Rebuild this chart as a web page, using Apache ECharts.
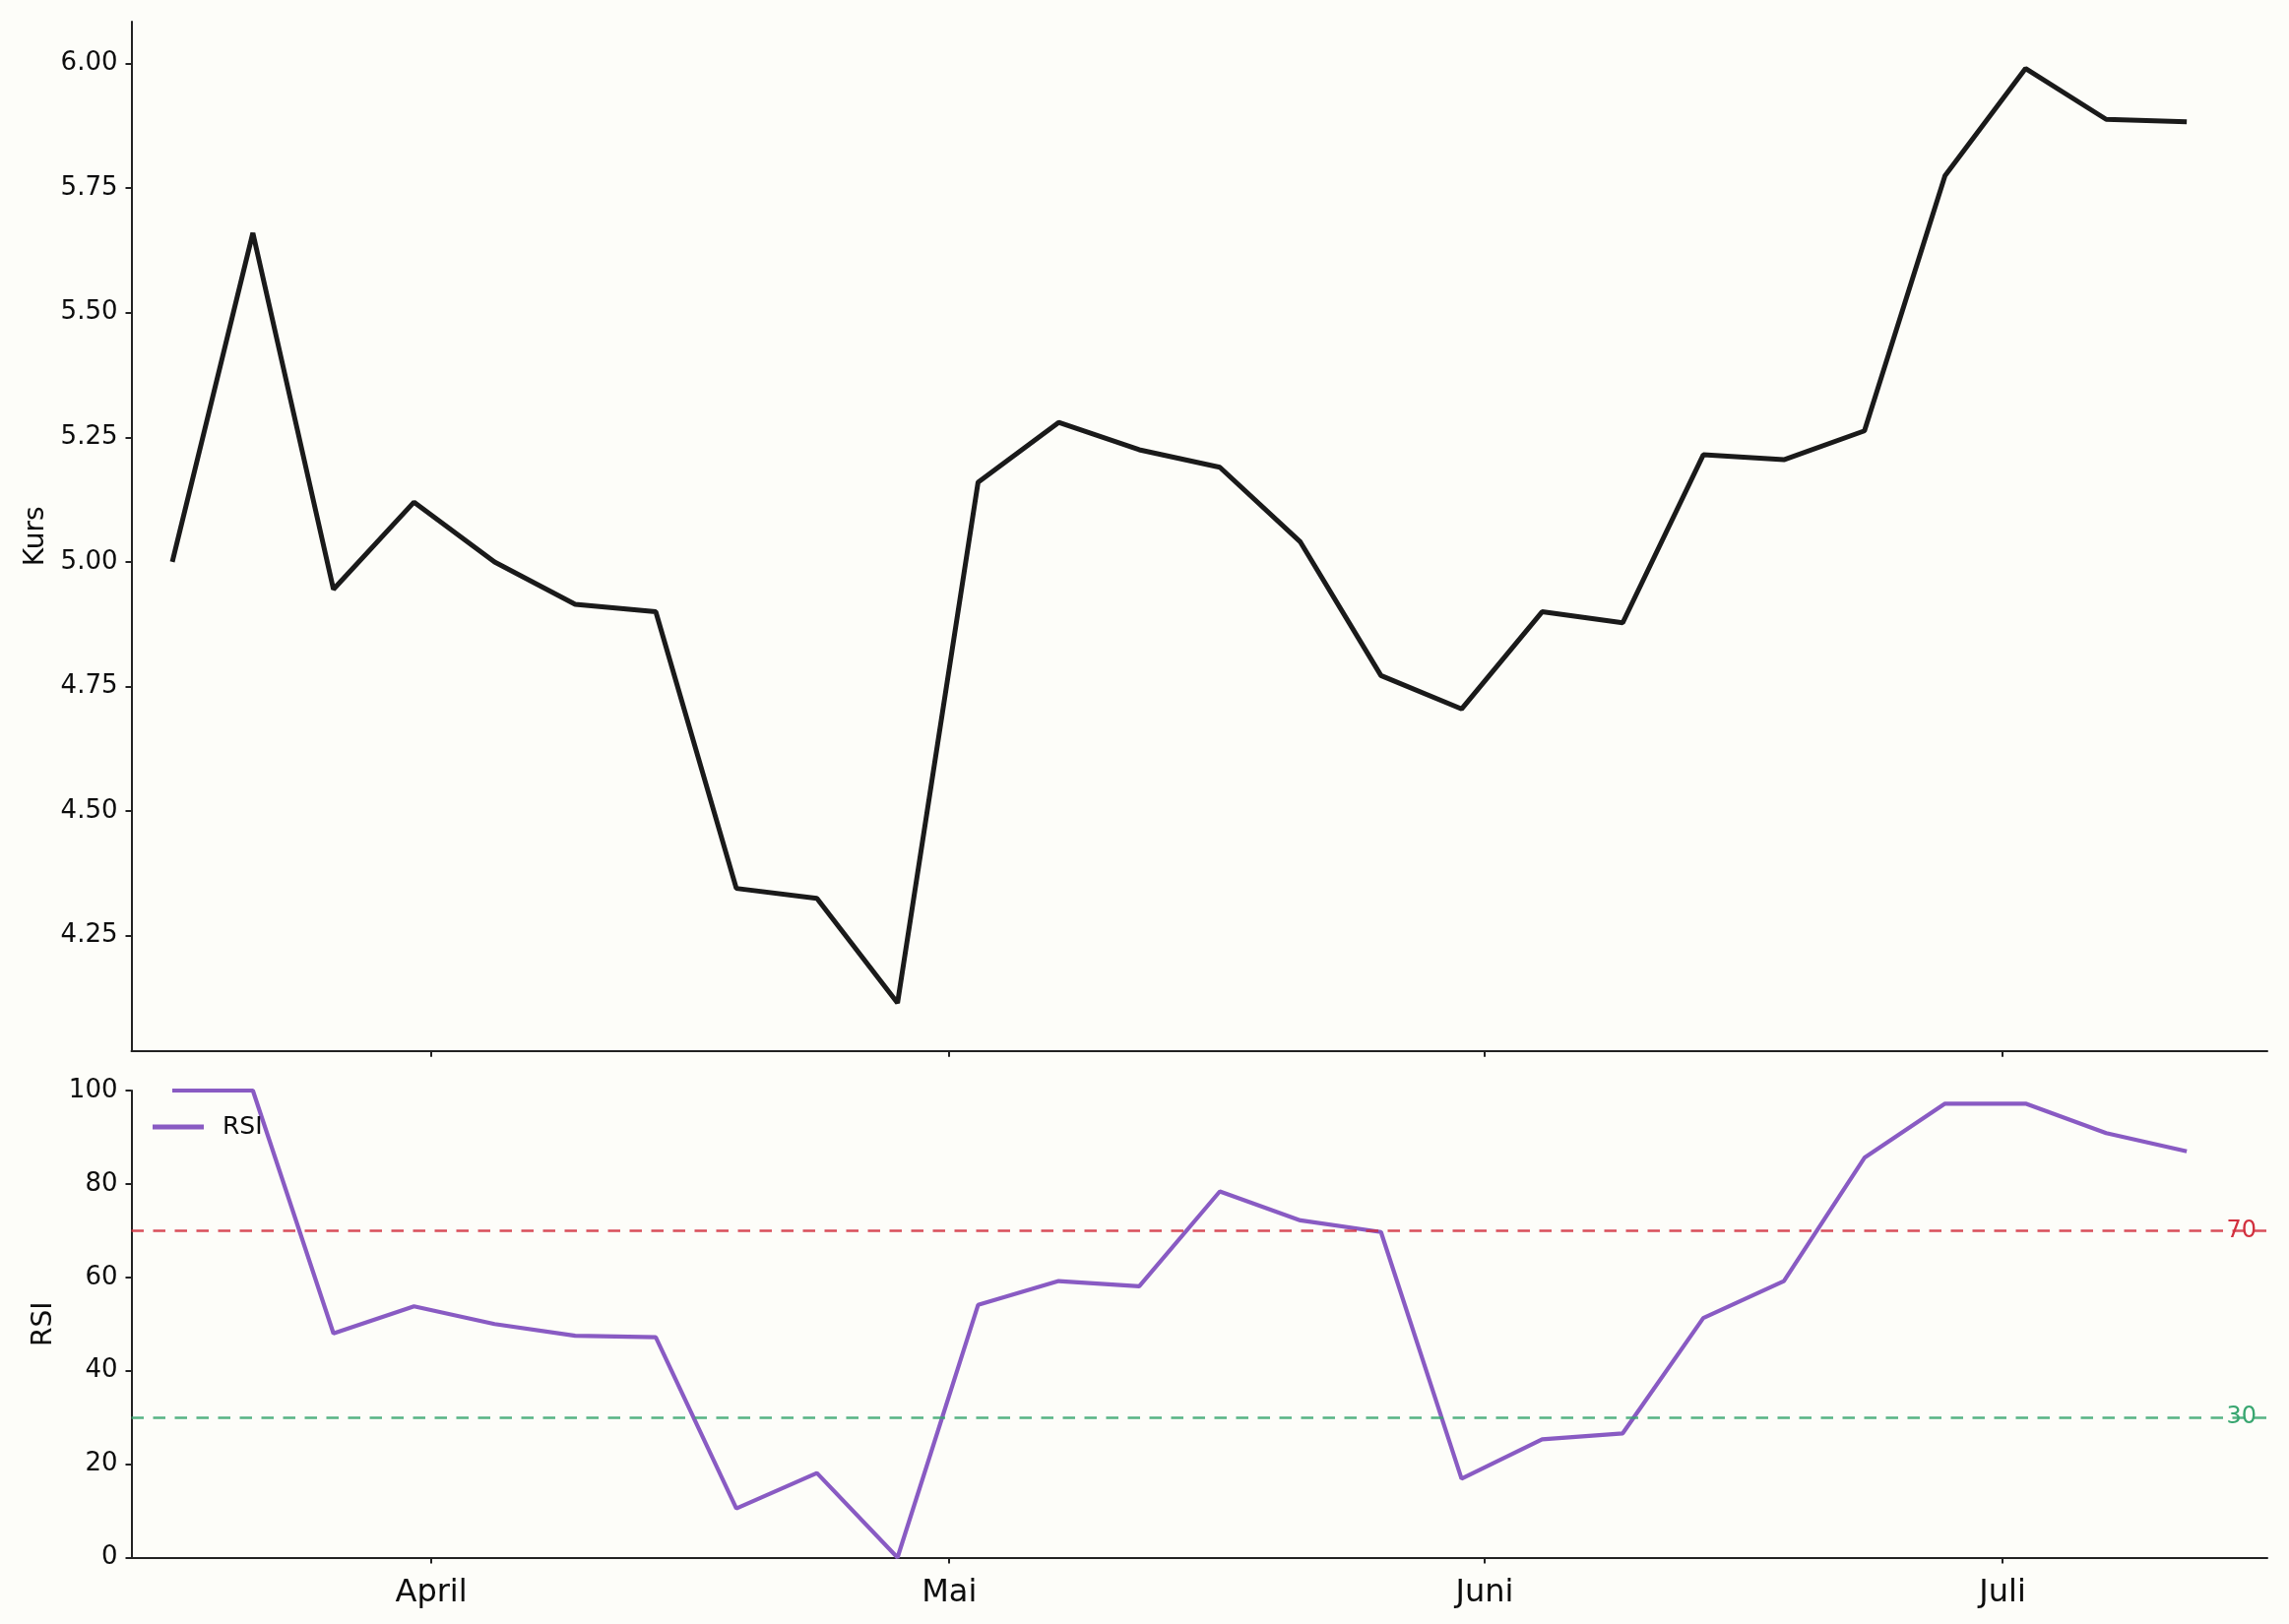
<!DOCTYPE html>
<html>
<head>
<meta charset="utf-8">
<script src="https://cdn.jsdelivr.net/npm/echarts@6/dist/echarts.min.js"></script>
<style>
html,body{margin:0;padding:0;background:#fdfdf9;}
#chart{width:2325px;height:1650px;}
</style>
</head>
<body>
<div id="chart"></div>
<script>
const dates = ['2024-03-17 00:00','2024-03-21 16:00','2024-03-26 08:00','2024-03-31 00:00','2024-04-04 16:00','2024-04-09 08:00','2024-04-14 00:00','2024-04-18 16:00','2024-04-23 08:00','2024-04-28 00:00','2024-05-02 16:00','2024-05-07 08:00','2024-05-12 00:00','2024-05-16 16:00','2024-05-21 08:00','2024-05-26 00:00','2024-05-30 16:00','2024-06-04 08:00','2024-06-09 00:00','2024-06-13 16:00','2024-06-18 08:00','2024-06-23 00:00','2024-06-27 16:00','2024-07-02 08:00','2024-07-07 00:00','2024-07-11 16:00'];
const kurs = [5.00, 5.66, 4.945, 5.12, 5.00, 4.915, 4.90, 4.345, 4.325, 4.115, 5.16, 5.28, 5.225, 5.19, 5.04, 4.772, 4.705, 4.90, 4.878, 5.215, 5.205, 5.263, 5.775, 5.99, 5.888, 5.883];
const rsi = [100, 100, 48, 53.8, 50, 47.5, 47.2, 10.5, 18.1, 0, 54.1, 59.2, 58.1, 78.4, 72.2, 69.7, 16.9, 25.3, 26.6, 51.3, 59.2, 85.6, 97.2, 97.2, 90.9, 87.0];
const monthTickDates = ['2024-04-01 00:00','2024-05-01 00:00','2024-06-01 00:00','2024-07-01 00:00'];
const monthTickLabels = ['April','Mai','Juni','Juli'];
const kursTicks = [4.25, 4.50, 4.75, 5.00, 5.25, 5.50, 5.75, 6.00];
const rsiLevels = [70, 30];

const toTs = s => echarts.time.parse(s).getTime();
const dateTs = dates.map(toTs);
const monthTs = monthTickDates.map(toTs);
const FONT = 'DejaVu Sans';
const AX = '#222222';
const RED = '#d2303e';
const GREEN = '#38a670';
const xMin = toTs('2024-03-14 15:12');
const xMax = toTs('2024-07-16 08:00');
const labelTs = toTs('2024-07-14 20:00');

const chart = echarts.init(document.getElementById('chart'), null, {renderer: 'canvas'});
const yCommon = {
  axisLine: {show: true, lineStyle: {color: AX, width: 2}},
  axisTick: {show: true, length: 6, lineStyle: {color: AX, width: 2}},
  splitLine: {show: false},
  axisLabel: {color: '#0d0d0d', fontFamily: FONT, fontSize: 26, margin: 14},
  nameLocation: 'middle',
  nameTextStyle: {color: '#0d0d0d', fontFamily: FONT, fontSize: 28}
};
const xCommon = {
  type: 'value', min: xMin, max: xMax,
  axisLine: {show: true, onZero: false, lineStyle: {color: AX, width: 2}},
  axisTick: {show: true, length: 6, customValues: monthTs, lineStyle: {color: AX, width: 2}},
  splitLine: {show: false}
};
chart.setOption({
  animation: false,
  backgroundColor: '#fdfdf9',
  grid: [
    {left: 133.5, right: 22, top: 22, height: 1045.7},
    {left: 133.5, right: 22, top: 1108, height: 474.5}
  ],
  legend: {
    data: ['RSI'], left: 150, top: 1126, icon: 'rect', itemWidth: 52, itemHeight: 5, itemGap: 10,
    textStyle: {color: '#0d0d0d', fontFamily: FONT, fontSize: 25, lineHeight: 28, padding: [0, 0, 0, 14]}
  },
  xAxis: [
    Object.assign({}, xCommon, {gridIndex: 0, axisLabel: {show: false}}),
    Object.assign({}, xCommon, {gridIndex: 1, axisLabel: {
      show: true, customValues: monthTs, color: '#0d0d0d', fontFamily: FONT, fontSize: 32, margin: 20,
      formatter: v => { const i = monthTs.indexOf(v); return i >= 0 ? monthTickLabels[i] : ''; }
    }})
  ],
  yAxis: [
    Object.assign({}, yCommon, {
      gridIndex: 0, type: 'value', min: 4.019, max: 6.084, name: 'Kurs', nameGap: 82,
      axisTick: Object.assign({}, yCommon.axisTick, {customValues: kursTicks}),
      axisLabel: Object.assign({}, yCommon.axisLabel, {customValues: kursTicks, formatter: v => v.toFixed(2)})
    }),
    Object.assign({}, yCommon, {
      gridIndex: 1, type: 'value', min: 0, max: 100, interval: 20, name: 'RSI', nameGap: 70
    })
  ],
  series: [
    {
      name: 'Kurs', type: 'line', xAxisIndex: 0, yAxisIndex: 0, showSymbol: false,
      lineStyle: {color: '#1a1a1a', width: 5}, itemStyle: {color: '#1a1a1a'},
      data: dateTs.map((d, i) => [d, kurs[i]])
    },
    {
      name: 'RSI', type: 'line', xAxisIndex: 1, yAxisIndex: 1, showSymbol: false,
      lineStyle: {color: '#895bc3', width: 4.2}, itemStyle: {color: '#895bc3'},
      data: dateTs.map((d, i) => [d, rsi[i]]),
      markLine: {
        silent: true, symbol: 'none', label: {show: false}, z: 5,
        data: [
          {yAxis: rsiLevels[0], lineStyle: {color: RED, width: 2.5, type: [12.5, 9.5], opacity: 0.85}},
          {yAxis: rsiLevels[1], lineStyle: {color: GREEN, width: 2.5, type: [12.5, 9.5], opacity: 0.85}}
        ]
      },
      markPoint: {
        silent: true, symbol: 'circle', symbolSize: 0,
        data: [
          {coord: [labelTs, rsiLevels[0]], label: {show: true, position: 'inside', formatter: String(rsiLevels[0]), color: RED, fontFamily: FONT, fontSize: 24}},
          {coord: [labelTs, rsiLevels[1]], label: {show: true, position: 'inside', formatter: String(rsiLevels[1]), color: GREEN, fontFamily: FONT, fontSize: 24}}
        ]
      }
    }
  ]
});
</script>
</body>
</html>
